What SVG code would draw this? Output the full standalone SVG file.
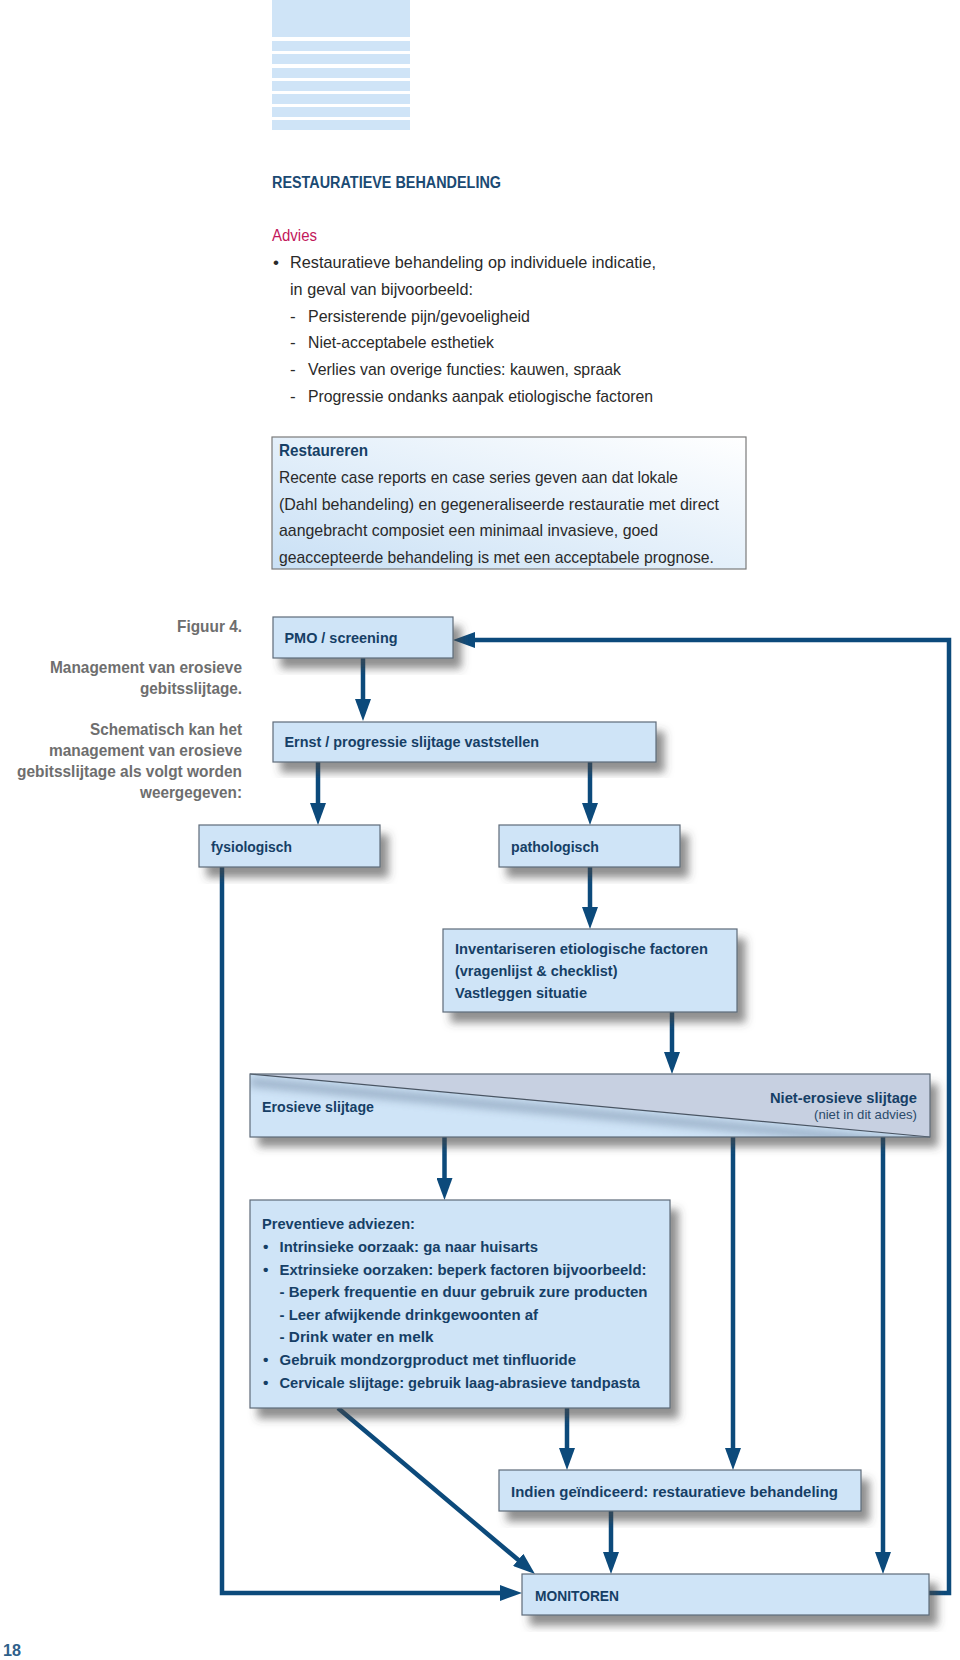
<svg xmlns="http://www.w3.org/2000/svg" width="960" height="1660" viewBox="0 0 960 1660">
<style>
text{font-family:"Liberation Sans Narrow","Liberation Sans",Arial,sans-serif}
.body{font-size:17px;fill:#2a2a2a}
.hd{font-size:16px;font-weight:bold;fill:#1b4a73}
.adv{font-size:17px;fill:#c2185b}
.cap{font-size:16.5px;font-weight:bold;fill:#6e6e6e;text-anchor:end}
.nt{font-size:15.5px;font-weight:bold;fill:#163f66}
.sm{font-size:13.5px;fill:#2a4a6a;text-anchor:end}
.node{fill:#cfe4f7;stroke:#5e6b79;stroke-width:1.2}
.con{fill:none;stroke:#0c4a7b;stroke-width:4.5}
.stripe{fill:#cfe4f7}
</style>
<defs>
<marker id="ah" viewBox="0 0 22 16" refX="10" refY="8" markerWidth="22" markerHeight="16" markerUnits="userSpaceOnUse" orient="auto">
<path d="M0,0 L22,8 L0,16 Z" fill="#0c4a7b"/>
</marker>
<filter id="sh" x="-10%" y="-20%" width="130%" height="160%">
<feDropShadow dx="8" dy="10" stdDeviation="4" flood-color="#444" flood-opacity="0.6"/>
</filter>
<filter id="bl" x="-10%" y="-50%" width="120%" height="200%">
<feGaussianBlur stdDeviation="4"/>
</filter>
<linearGradient id="rg" x1="0" y1="1" x2="1" y2="0">
<stop offset="0" stop-color="#c9e0f5"/>
<stop offset="1" stop-color="#ffffff"/>
</linearGradient>
<clipPath id="lowtri"><polygon points="250,1074 930,1137 250,1137"/></clipPath>
</defs>

<g id="decoration">
<rect class="stripe" x="272" y="0" width="138" height="37"/>
<rect class="stripe" x="272" y="41" width="138" height="10"/>
<rect class="stripe" x="272" y="54" width="138" height="10"/>
<rect class="stripe" x="272" y="68" width="138" height="10"/>
<rect class="stripe" x="272" y="81" width="138" height="10"/>
<rect class="stripe" x="272" y="94" width="138" height="10"/>
<rect class="stripe" x="272" y="107" width="138" height="10"/>
<rect class="stripe" x="272" y="120" width="138" height="10"/>
</g>

<g id="header">
<text class="hd" x="272" y="188" textLength="229" lengthAdjust="spacingAndGlyphs">RESTAURATIEVE BEHANDELING</text>
<text class="adv" x="272" y="241" textLength="45" lengthAdjust="spacingAndGlyphs">Advies</text>
<text class="body" x="273" y="268">•</text>
<text class="body" x="290" y="268" textLength="366" lengthAdjust="spacingAndGlyphs">Restauratieve behandeling op individuele indicatie,</text>
<text class="body" x="290" y="295" textLength="183" lengthAdjust="spacingAndGlyphs">in geval van bijvoorbeeld:</text>
<text class="body" x="290" y="322">-</text>
<text class="body" x="308" y="322" textLength="222" lengthAdjust="spacingAndGlyphs">Persisterende pijn/gevoeligheid</text>
<text class="body" x="290" y="348">-</text>
<text class="body" x="308" y="348" textLength="186" lengthAdjust="spacingAndGlyphs">Niet-acceptabele esthetiek</text>
<text class="body" x="290" y="375">-</text>
<text class="body" x="308" y="375" textLength="313" lengthAdjust="spacingAndGlyphs">Verlies van overige functies: kauwen, spraak</text>
<text class="body" x="290" y="402">-</text>
<text class="body" x="308" y="402" textLength="345" lengthAdjust="spacingAndGlyphs">Progressie ondanks aanpak etiologische factoren</text>
</g>

<g id="restaureren">
<rect x="272" y="437" width="474" height="132" fill="url(#rg)" stroke="#7a7a7a" stroke-width="1.2"/>
<text class="nt" x="279" y="456" style="font-size:16.5px" textLength="89" lengthAdjust="spacingAndGlyphs">Restaureren</text>
<text class="body" x="279" y="483" textLength="399" lengthAdjust="spacingAndGlyphs">Recente case reports en case series geven aan dat lokale</text>
<text class="body" x="279" y="510" textLength="440" lengthAdjust="spacingAndGlyphs">(Dahl behandeling) en gegeneraliseerde restauratie met direct</text>
<text class="body" x="279" y="536" textLength="379" lengthAdjust="spacingAndGlyphs">aangebracht composiet een minimaal invasieve, goed</text>
<text class="body" x="279" y="563" textLength="435" lengthAdjust="spacingAndGlyphs">geaccepteerde behandeling is met een acceptabele prognose.</text>
</g>

<g id="caption">
<text class="cap" x="242" y="632" textLength="65" lengthAdjust="spacingAndGlyphs">Figuur 4.</text>
<text class="cap" x="242" y="673" textLength="192" lengthAdjust="spacingAndGlyphs">Management van erosieve</text>
<text class="cap" x="242" y="694" textLength="102" lengthAdjust="spacingAndGlyphs">gebitsslijtage.</text>
<text class="cap" x="242" y="735" textLength="152" lengthAdjust="spacingAndGlyphs">Schematisch kan het</text>
<text class="cap" x="242" y="756" textLength="193" lengthAdjust="spacingAndGlyphs">management van erosieve</text>
<text class="cap" x="242" y="777" textLength="225" lengthAdjust="spacingAndGlyphs">gebitsslijtage als volgt worden</text>
<text class="cap" x="242" y="798" textLength="102" lengthAdjust="spacingAndGlyphs">weergegeven:</text>
</g>

<g id="connectors">
<path class="con" d="M363,658 V709" marker-end="url(#ah)"/>
<path class="con" d="M318,762 V813" marker-end="url(#ah)"/>
<path class="con" d="M590,762 V813" marker-end="url(#ah)"/>
<path class="con" d="M590,867 V917" marker-end="url(#ah)"/>
<path class="con" d="M672,1012 V1062" marker-end="url(#ah)"/>
<path class="con" d="M444.5,1137 V1188" marker-end="url(#ah)"/>
<path class="con" d="M567,1408 V1458" marker-end="url(#ah)"/>
<path class="con" d="M733,1137 V1458" marker-end="url(#ah)"/>
<path class="con" d="M883,1137 V1562" marker-end="url(#ah)"/>
<path class="con" d="M611,1511 V1562" marker-end="url(#ah)"/>
<path class="con" d="M338,1408 L525.8,1566.3" marker-end="url(#ah)"/>
<path class="con" d="M222,867 V1593 H510" marker-end="url(#ah)"/>
<path class="con" d="M929,1593 H949 V640 H465" marker-end="url(#ah)"/>
</g>

<g id="pmo">
<rect class="node" x="273" y="617" width="180" height="41" filter="url(#sh)"/>
<text class="nt" x="284.5" y="643" textLength="113" lengthAdjust="spacingAndGlyphs">PMO / screening</text>
</g>
<g id="ernst">
<rect class="node" x="273" y="722" width="383" height="40" filter="url(#sh)"/>
<text class="nt" x="284.5" y="747" textLength="254.5" lengthAdjust="spacingAndGlyphs">Ernst / progressie slijtage vaststellen</text>
</g>
<g id="fysiologisch">
<rect class="node" x="199" y="825" width="181" height="42" filter="url(#sh)"/>
<text class="nt" x="211" y="852" textLength="81" lengthAdjust="spacingAndGlyphs">fysiologisch</text>
</g>
<g id="pathologisch">
<rect class="node" x="499" y="825" width="181" height="42" filter="url(#sh)"/>
<text class="nt" x="511" y="852" textLength="88" lengthAdjust="spacingAndGlyphs">pathologisch</text>
</g>
<g id="inventariseren">
<rect class="node" x="443" y="929" width="294" height="83" filter="url(#sh)"/>
<text class="nt" x="455" y="954" textLength="253" lengthAdjust="spacingAndGlyphs">Inventariseren etiologische factoren</text>
<text class="nt" x="455" y="976" textLength="162.5" lengthAdjust="spacingAndGlyphs">(vragenlijst &amp; checklist)</text>
<text class="nt" x="455" y="998" textLength="132" lengthAdjust="spacingAndGlyphs">Vastleggen situatie</text>
</g>
<g id="slijtage">
<rect x="250" y="1074" width="680" height="63" fill="#cfe4f7" filter="url(#sh)"/>
<polygon points="250,1074 930,1074 930,1137" fill="#c7d0e1"/>
<g clip-path="url(#lowtri)">
<line x1="250" y1="1082" x2="930" y2="1145" stroke="#6f85a0" stroke-width="9" opacity="0.55" filter="url(#bl)"/>
</g>
<line x1="250" y1="1074" x2="930" y2="1137" stroke="#4a5563" stroke-width="1.2"/>
<rect x="250" y="1074" width="680" height="63" fill="none" stroke="#5e6b79" stroke-width="1.2"/>
<text class="nt" x="262" y="1112" textLength="112" lengthAdjust="spacingAndGlyphs">Erosieve slijtage</text>
<text class="nt" x="917" y="1103" text-anchor="end" textLength="147" lengthAdjust="spacingAndGlyphs">Niet-erosieve slijtage</text>
<text class="sm" x="917" y="1119" textLength="103" lengthAdjust="spacingAndGlyphs">(niet in dit advies)</text>
</g>
<g id="preventieve">
<rect class="node" x="250" y="1200" width="420" height="208" filter="url(#sh)"/>
<text class="nt" x="262" y="1229" textLength="153" lengthAdjust="spacingAndGlyphs">Preventieve adviezen:</text>
<text class="nt" x="263" y="1252">•</text>
<text class="nt" x="279.5" y="1252" textLength="258.5" lengthAdjust="spacingAndGlyphs">Intrinsieke oorzaak: ga naar huisarts</text>
<text class="nt" x="263" y="1275">•</text>
<text class="nt" x="279.5" y="1275" textLength="367" lengthAdjust="spacingAndGlyphs">Extrinsieke oorzaken: beperk factoren bijvoorbeeld:</text>
<text class="nt" x="279.5" y="1297" textLength="368" lengthAdjust="spacingAndGlyphs">- Beperk frequentie en duur gebruik zure producten</text>
<text class="nt" x="279.5" y="1320" textLength="258.5" lengthAdjust="spacingAndGlyphs">- Leer afwijkende drinkgewoonten af</text>
<text class="nt" x="279.5" y="1342" textLength="154" lengthAdjust="spacingAndGlyphs">- Drink water en melk</text>
<text class="nt" x="263" y="1365">•</text>
<text class="nt" x="279.5" y="1365" textLength="296.5" lengthAdjust="spacingAndGlyphs">Gebruik mondzorgproduct met tinfluoride</text>
<text class="nt" x="263" y="1388">•</text>
<text class="nt" x="279.5" y="1388" textLength="360.5" lengthAdjust="spacingAndGlyphs">Cervicale slijtage: gebruik laag-abrasieve tandpasta</text>
</g>
<g id="indien">
<rect class="node" x="499" y="1470" width="362" height="41" filter="url(#sh)"/>
<text class="nt" x="511" y="1497" textLength="327" lengthAdjust="spacingAndGlyphs">Indien geïndiceerd: restauratieve behandeling</text>
</g>
<g id="monitoren">
<rect class="node" x="522" y="1574" width="407" height="41" filter="url(#sh)"/>
<text class="nt" x="535" y="1601" textLength="84" lengthAdjust="spacingAndGlyphs">MONITOREN</text>
</g>

<text x="3" y="1656" style="font-size:17px;font-weight:bold;fill:#2f5f8a" textLength="18" lengthAdjust="spacingAndGlyphs">18</text>
</svg>
